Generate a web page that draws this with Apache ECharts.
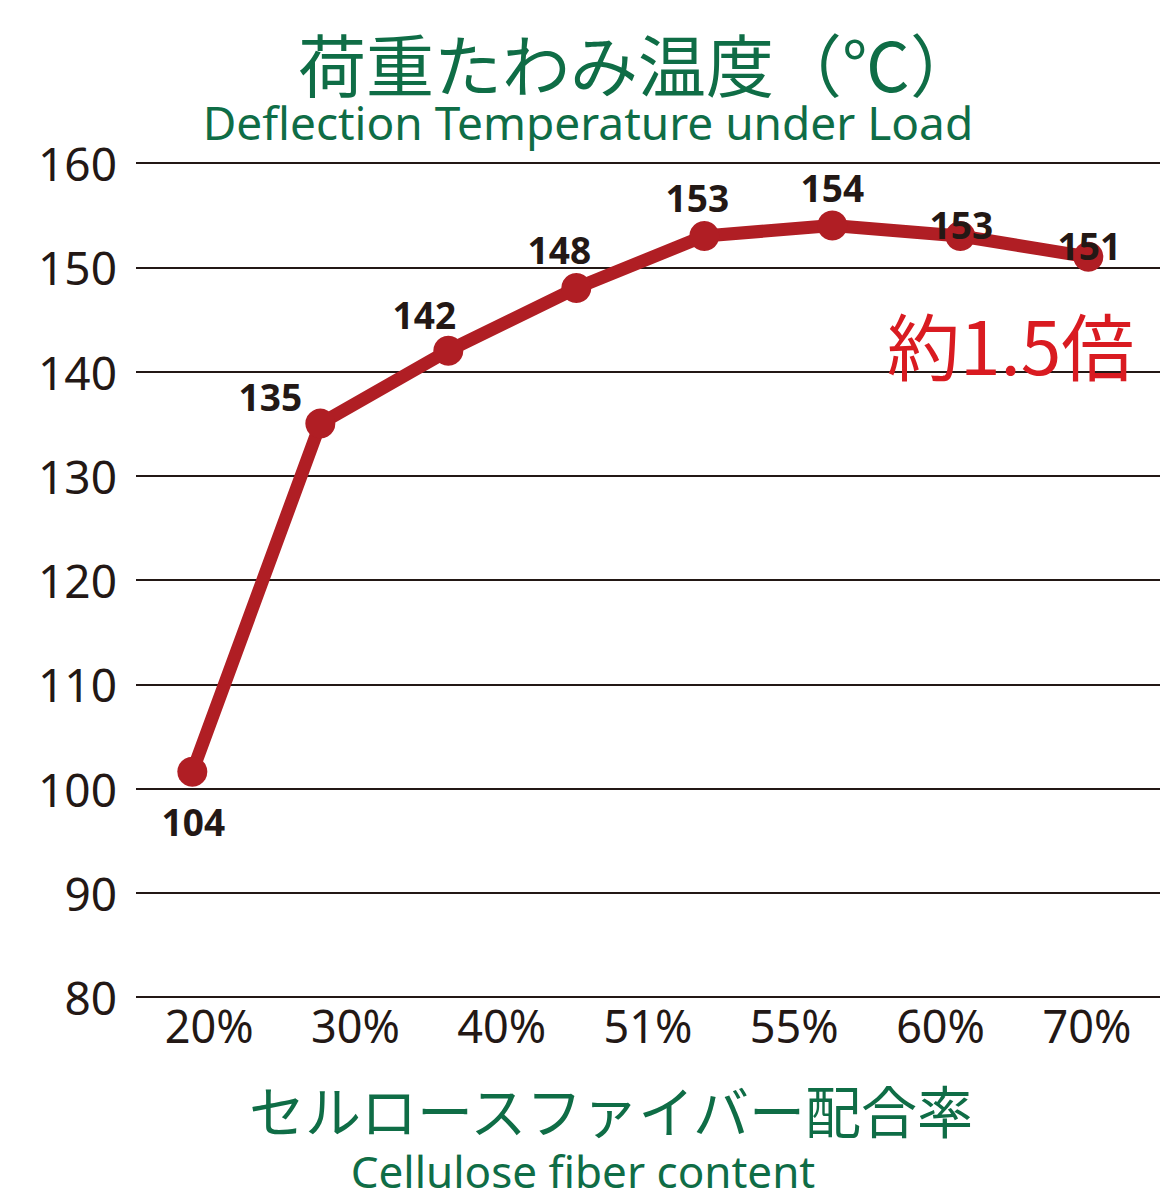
<!DOCTYPE html>
<html>
<head>
<meta charset="utf-8">
<script src="https://cdn.jsdelivr.net/npm/echarts@6/dist/echarts.min.js"></script>
<style>
html,body{margin:0;padding:0;background:#ffffff;}
#chart{width:1175px;height:1196px;}
</style>
</head>
<body>
<div id="chart"></div>
<script>
// ---- data ----
const titleJa = '荷重たわみ温度（℃）';
const titleEn = 'Deflection Temperature under Load';
const xNameJa = 'セルロースファイバー配合率';
const xNameEn = 'Cellulose fiber content';
const noteText = '約1.5倍';
const xTickLabels = ['20%', '30%', '40%', '51%', '55%', '60%', '70%'];
const yMin = 80;
const yMax = 160;
const yStep = 10;
const pointValues = [101.6, 135, 142, 148, 153, 154, 153, 151];
const pointLabels = ['104', '135', '142', '148', '153', '154', '153', '151'];

// ---- styles ----
const GREEN = '#0f6d46';
const DARK = '#231815';
const LINE_RED = '#b01e24';
const NOTE_RED = '#d91b21';
const labelOffsets = [[1, 50], [-50, -27], [-24, -36], [-17, -39], [-7, -38], [0, -38], [1, -11], [1, -11]];

const chart = echarts.init(document.getElementById('chart'), null, {renderer: 'svg'});

const seriesData = pointValues.map((v, i) => ({
  value: [i, v],
  label: {offset: labelOffsets[i]}
}));

const option = {
  backgroundColor: '#ffffff',
  animation: false,
  title: [
    {text: titleJa, left: 638, top: 32, textAlign: 'center', padding: 0,
     textStyle: {fontFamily: 'Noto Sans CJK JP', fontSize: 68, lineHeight: 60, fontWeight: 'normal', color: GREEN}},
    {text: titleEn, left: 588, top: 102, textAlign: 'center', padding: 0,
     textStyle: {fontFamily: 'Noto Sans', fontSize: 46, lineHeight: 40, fontWeight: 'normal', color: GREEN}},
    {text: xNameJa, left: 611, top: 1083, textAlign: 'center', padding: 0,
     textStyle: {fontFamily: 'Noto Sans CJK JP', fontSize: 56, lineHeight: 50, fontWeight: 'normal', color: GREEN}},
    {text: xNameEn, left: 583, top: 1151, textAlign: 'center', padding: 0,
     textStyle: {fontFamily: 'Noto Sans', fontSize: 44, lineHeight: 40, fontWeight: 'normal', color: GREEN}}
  ],
  grid: {left: 136, right: 15, top: 163, bottom: 199, containLabel: false},
  xAxis: [
    {
      type: 'category',
      data: xTickLabels,
      boundaryGap: true,
      axisLine: {show: false},
      axisTick: {show: false},
      splitLine: {show: false},
      axisLabel: {interval: 0, margin: 6, fontFamily: 'Noto Sans', fontSize: 45, color: DARK}
    },
    {
      type: 'value',
      show: false,
      min: -0.44,
      max: 7.56,
      splitLine: {show: false}
    }
  ],
  yAxis: {
    type: 'value',
    min: yMin,
    max: yMax,
    interval: yStep,
    axisLine: {show: false},
    axisTick: {show: false},
    axisLabel: {margin: 19, fontFamily: 'Noto Sans', fontSize: 46, color: DARK},
    splitLine: {show: true, lineStyle: {color: DARK, width: 2.2}}
  },
  series: [{
    type: 'line',
    xAxisIndex: 1,
    data: seriesData,
    symbol: 'circle',
    symbolSize: 30,
    lineStyle: {color: LINE_RED, width: 13, cap: 'round', join: 'round'},
    itemStyle: {color: LINE_RED},
    label: {
      show: true,
      position: 'inside',
      formatter: p => pointLabels[p.dataIndex],
      fontFamily: 'Noto Sans',
      fontWeight: 'bold',
      fontSize: 37,
      color: DARK
    },
    z: 3
  }],
  graphic: [{
    type: 'text',
    left: 887,
    top: 306,
    z: 10,
    style: {text: noteText, font: 'normal 73px "Noto Sans CJK JP"', fill: NOTE_RED}
  }]
};

chart.setOption(option);
</script>
</body>
</html>
